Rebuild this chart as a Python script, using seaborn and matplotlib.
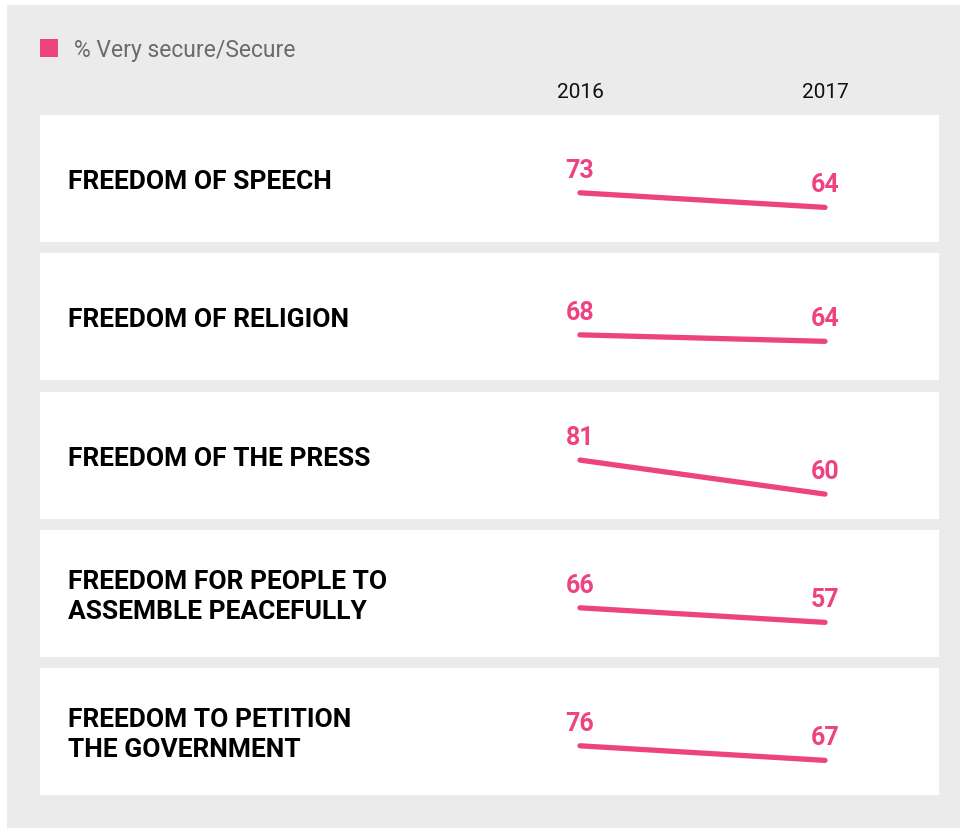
import pandas as pd
import seaborn as sns
import matplotlib.pyplot as plt
from matplotlib.patches import Rectangle

# data
freedoms = ["FREEDOM OF SPEECH", "FREEDOM OF RELIGION", "FREEDOM OF THE PRESS",
            "FREEDOM FOR PEOPLE TO\nASSEMBLE PEACEFULLY", "FREEDOM TO PETITION\nTHE GOVERNMENT"]
years = [2016, 2017]
pct_2016 = [73, 68, 81, 66, 76]
pct_2017 = [64, 64, 60, 57, 67]

PINK = "#EE4381"
BG = "#EBEBEB"
W, H = 960, 829

sns.set_style("white")
plt.rcParams['font.family'] = ['Roboto', 'DejaVu Sans']

fig = plt.figure(figsize=(W / 100, H / 100), dpi=100)
fig.patch.set_facecolor("white")
fig.add_artist(Rectangle((7 / W, 0), 1 - 7 / W, 1 - 6 / H, transform=fig.transFigure,
                         facecolor=BG, edgecolor="none", zorder=0))

# legend
fig.add_artist(Rectangle((40 / W, 1 - 58 / H), 18 / W, 18 / H, transform=fig.transFigure,
                         facecolor=PINK, edgecolor="none"))
fig.text(74 / W, 1 - 50 / H, "% Very secure/Secure", fontsize=16.5, color="#6b6b6b",
         va="center", ha="left")

# year headers
x0_px, x1_px = 580, 825
panel_left, panel_w = 40, 899
for yr, xp in zip(years, [x0_px, x1_px]):
    fig.text(xp / W, 1 - 92 / H, str(yr), fontsize=15, color="#111111", ha="center", va="center")

tops = [116, 254, 393, 531, 669]
panel_h = 127
scale = 245  # px per x unit
xlim = (-(x0_px - panel_left) / scale, (panel_left + panel_w - x0_px) / scale)
px_per_unit = 1.62
span = panel_h / px_per_unit

for i, name in enumerate(freedoms):
    top = tops[i]
    ax = fig.add_axes([panel_left / W, 1 - (top + panel_h) / H, panel_w / W, panel_h / H])
    ax.set_facecolor("white")
    df = pd.DataFrame({"x": [0, 1], "pct": [pct_2016[i], pct_2017[i]]})
    sns.lineplot(data=df, x="x", y="pct", ax=ax, color=PINK, linewidth=3.8,
                 solid_capstyle="round")
    mid = (pct_2016[i] + pct_2017[i]) / 2
    ax.set_ylim(mid - 0.33 * span, mid + 0.67 * span)
    ax.set_xlim(*xlim)
    for xv, v in zip([0, 1], [pct_2016[i], pct_2017[i]]):
        ax.annotate(str(v), (xv, v), xytext=(0, 8), textcoords="offset points",
                    ha="center", va="bottom", fontsize=18, fontweight="bold", color=PINK)
    ax.text(28 / panel_w, 0.48, name, transform=ax.transAxes, ha="left", va="center",
            fontsize=19, fontweight="bold", color="black", linespacing=1.32)
    ax.set_xticks([])
    ax.set_yticks([])
    ax.set_xlabel("")
    ax.set_ylabel("")
    for s in ax.spines.values():
        s.set_visible(False)

fig.savefig("out.png", dpi=100)
